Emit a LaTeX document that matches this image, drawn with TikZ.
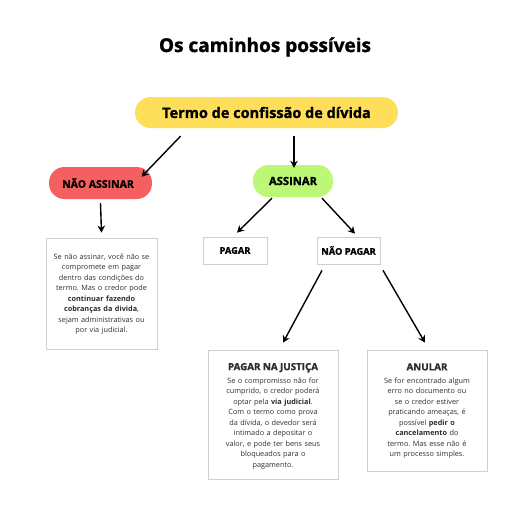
\documentclass[tikz,border=0pt]{standalone}
\usepackage{fontspec}
\setmainfont{Open Sans}
\newfontfamily\heavyfont{Open Sans}[BoldFeatures={FakeBold=1.3}]
\usetikzlibrary{arrows.meta,calc,shadows}
\definecolor{pillyellow}{HTML}{FFDE59}
\definecolor{pillred}{HTML}{F45F5F}
\definecolor{pillgreen}{HTML}{BDF776}
\definecolor{cardgray}{HTML}{CFCFCF}
\frenchspacing
\begin{document}
\begin{tikzpicture}[x=1pt,y=-1pt,
  pill/.style={rounded corners=15.5pt, inner sep=0pt},
  card/.style={draw=cardgray, fill=white, line width=0.7pt, inner sep=0pt,
    drop shadow={opacity=0.14, shadow xshift=0.6pt, shadow yshift=-1.3pt, fill=black}},
  bodytext/.style={align=center, font=\fontsize{7.3}{10.5}\selectfont\frenchspacing, text=black!82},
  arrowline/.style={-{Stealth[length=7pt,width=7.5pt]}, line width=1.4pt}
]
\useasboundingbox[fill=white] (0,0) rectangle (522,522);

\node[font=\fontsize{19}{22}\heavyfont\bfseries] (title) at (265,47) {Os caminhos possíveis};

\node[pill, fill=pillyellow, minimum width=263pt, minimum height=31pt, font=\fontsize{14.5}{17}\heavyfont\bfseries] (termo) at (266.5,112.5) {Termo de confissão de dívida};

\node[pill, fill=pillred, minimum width=103pt, minimum height=32pt] (nao) at (100.5,183) {};
\node[font=\fontsize{10.5}{13}\heavyfont\bfseries] (naolabel) at (98,183) {NÃO ASSINAR};
\node[pill, fill=pillgreen, minimum width=80pt, minimum height=32pt, font=\fontsize{11.2}{13}\heavyfont\bfseries] (sim) at (293,181) {ASSINAR};

\node[card, minimum width=111pt, minimum height=111pt] (naobox) at (101.5,293.5) {};
\node[bodytext, text width=108pt] (naotext) at (101.5,294) {Se não assinar, você não se\\ compromete em pagar\\ dentro das condições do\\ termo. Mas o credor pode\\ \textbf{continuar fazendo}\\ \textbf{cobranças da divida},\\ sejam administrativas ou\\ por via judicial.};

\node[card, minimum width=64pt, minimum height=27pt, font=\fontsize{9.3}{10}\heavyfont\bfseries] (pagar) at (235,250.5) {PAGAR};
\node[card, minimum width=63pt, minimum height=27pt, font=\fontsize{9.3}{10}\heavyfont\bfseries] (naopagar) at (348.5,250.5) {NÃO PAGAR};

\node[card, minimum width=130pt, minimum height=129pt] (justica) at (273,414.5) {};
\node[bodytext, text width=125pt] (justicatext) at (273,416) {{\fontsize{9.8}{12}\heavyfont\bfseries PAGAR NA JUSTIÇA}\\[2.5pt] Se o compromisso não for\\ cumprido, o credor poderá\\ optar pela \textbf{via judicial}.\\ Com o termo como prova\\ da dívida, o devedor será\\ intimado a depositar o\\ valor, e pode ter bens seus\\ bloqueados para o\\ pagamento.};

\node[card, minimum width=120pt, minimum height=121pt] (anular) at (427,410.5) {};
\node[bodytext, text width=116pt] (anulartext) at (427,411) {{\fontsize{9.8}{12}\heavyfont\bfseries ANULAR}\\[2.5pt] Se for encontrado algum\\ erro no documento ou\\ se o credor estiver\\ praticando ameaças, é\\ possível \textbf{pedir o}\\ \textbf{cancelamento} do\\ termo. Mas esse não é\\ um processo simples.};

\draw[arrowline] ([xshift=-86pt,yshift=-8pt]termo.south) -- ([xshift=41pt,yshift=-10pt]nao.north);
\draw[arrowline] ([xshift=27.5pt,yshift=-8pt]termo.south) -- ([xshift=1pt,yshift=-3pt]sim.north);
\draw[arrowline] ([yshift=-4pt]nao.south) -- ([yshift=5pt]naobox.north);
\draw[arrowline] ([xshift=-21pt,yshift=-1pt]sim.south) -- ([xshift=2pt,yshift=4pt]pagar.north);
\draw[arrowline] ([xshift=29pt,yshift=-1pt]sim.south) -- ([xshift=6.5pt,yshift=3pt]naopagar.north);
\draw[arrowline] ([xshift=-26.5pt,yshift=-6pt]naopagar.south) -- ([xshift=10pt,yshift=7pt]justica.north);
\draw[arrowline] ([xshift=34.5pt,yshift=-6pt]naopagar.south) -- ([xshift=-2pt,yshift=7pt]anular.north);
\end{tikzpicture}
\end{document}
